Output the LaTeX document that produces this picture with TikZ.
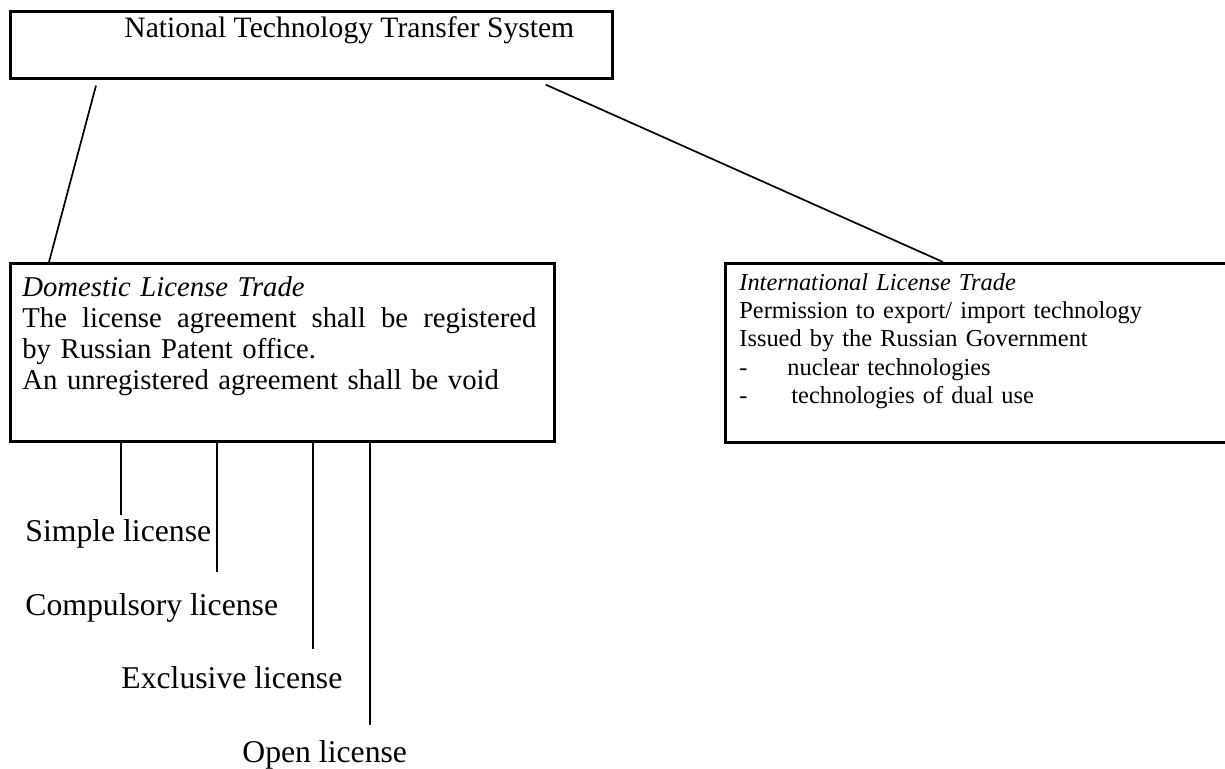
\documentclass[tikz,border=0pt]{standalone}
\usepackage{fontspec}
\setmainfont{Liberation Serif}
\usetikzlibrary{calc}
\tikzset{
  box/.style={draw, line width=1.3pt, inner sep=0pt, anchor=north west},
  txt/.style={inner sep=0pt, align=left},
  lic/.style={inner sep=0pt, anchor=base west, font=\fontsize{15.85}{17}\selectfont},
}
\begin{document}
\begin{tikzpicture}[x=0.5pt, y=-0.5pt]
      \useasboundingbox (0,0) rectangle (1225,769);
      \node[box, minimum width=301pt, minimum height=33.5pt] (nts) at (9,10) {};
      \node[box, minimum width=272pt, minimum height=89pt] (dom) at (9,262) {};
      \node[box, minimum width=251pt, minimum height=89.5pt] (itl) at (724,262) {};
      \node[txt, anchor=base west, font=\fontsize{14.8}{16}\selectfont] (ntstext) at (124,38)
        {National Technology Transfer System};
      \node[txt, anchor=north west, text width=262pt, font=\fontsize{14.35}{15.6}\selectfont] (domtext) at (22,276)
        {\textit{Domestic License Trade}\\
         \makebox[257pt][l]{The\hfill license\hfill agreement\hfill shall\hfill be\hfill registered}\\
         by Russian Patent office.\\
         An unregistered agreement shall be void};
      \node[txt, anchor=north west, text width=240pt, font=\fontsize{12.2}{14.15}\selectfont] (itltext) at (739,273)
        {\textit{International License Trade}\\
         Permission to export/ import technology\\
         Issued by the Russian Government\\
         \makebox[24pt][l]{-}nuclear technologies\\
         \makebox[24pt][l]{-}\hspace{2pt}technologies of dual use};
      \node[lic] (simple) at (25,541) {Simple license};
      \node[lic] (compulsory) at (25,615) {Compulsory license};
      \node[lic] (exclusive) at (121,688) {Exclusive license};
      \node[lic] (open) at (242,762) {Open license};
      \coordinate (s1) at (121,515);
      \coordinate (s2) at (217,572);
      \coordinate (s3) at (313,649);
      \coordinate (s4) at (370,725);
      \begin{scope}[line width=0.85pt]
        \draw ($(nts.south west)+(87,6)$) to ($(dom.north west)+(40,0)$);
        \draw ($(nts.south east)+(-68,5)$) to ($(itl.north west)+(219,0)$);
      \end{scope}
      \begin{scope}[line width=0.75pt]
        \draw (dom.south -| s1) to (s1);
        \draw (dom.south -| s2) to (s2);
        \draw (dom.south -| s3) to (s3);
        \draw (dom.south -| s4) to (s4);
      \end{scope}
    \end{tikzpicture}
\end{document}
